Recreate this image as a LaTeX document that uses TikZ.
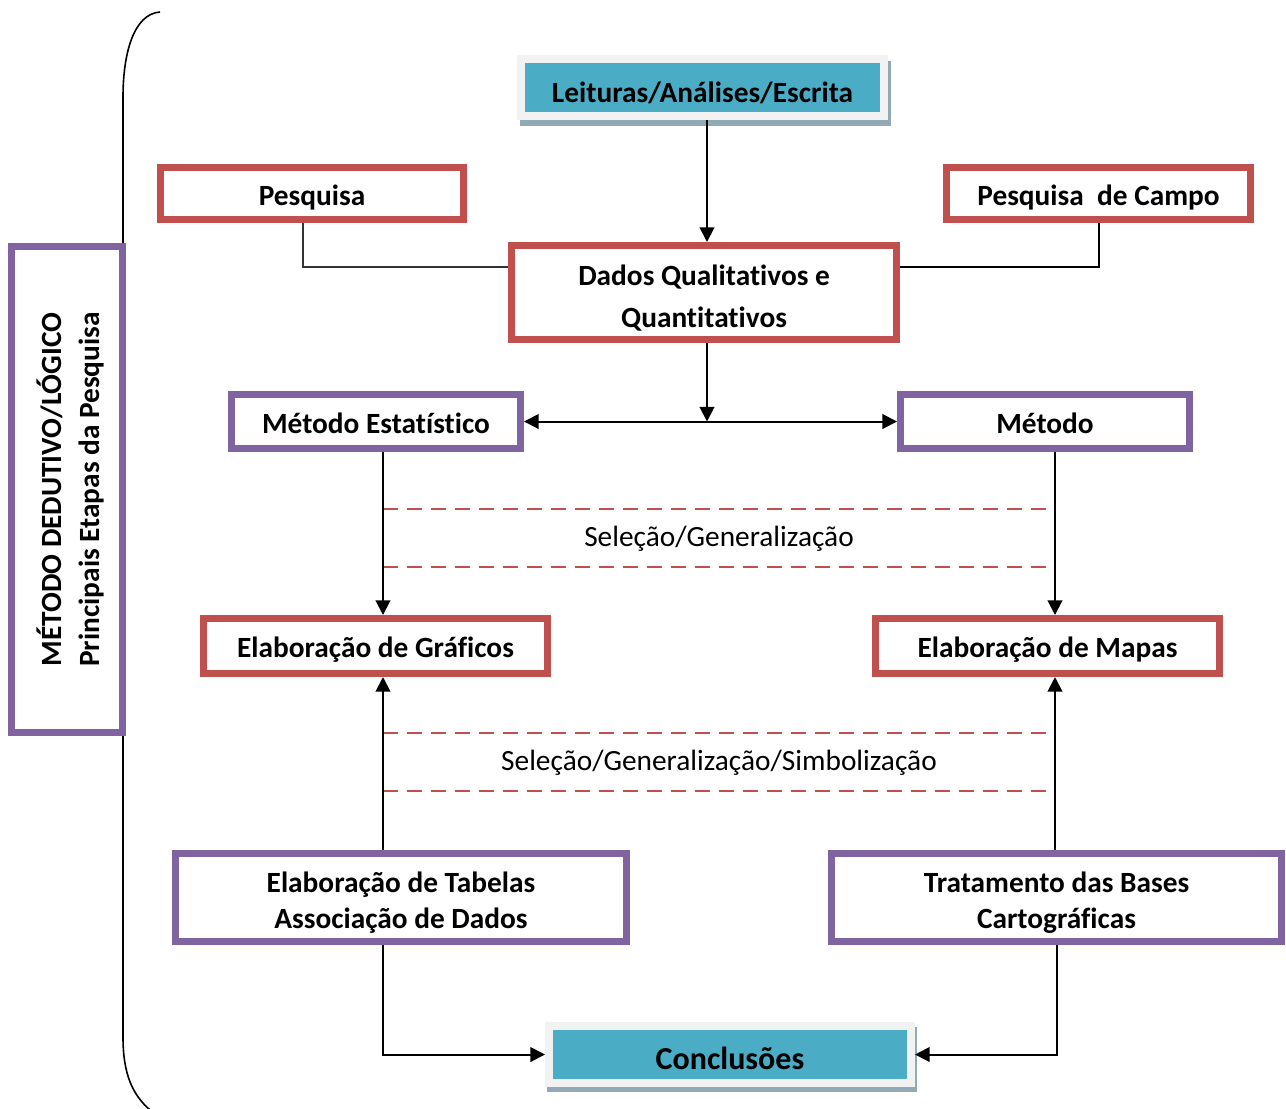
\documentclass[tikz,border=0pt]{standalone}
\usepackage{fontspec}
\setmainfont{Carlito}[Ligatures=NoCommon]
\usepackage{tikz}
\usetikzlibrary{calc, positioning, arrows.meta, backgrounds}
\definecolor{boxred}{RGB}{192,80,77}
\definecolor{boxpurple}{RGB}{128,100,162}
\definecolor{boxcyan}{RGB}{75,172,198}
\definecolor{framegray}{RGB}{242,242,242}
\definecolor{shadowgray}{RGB}{146,170,182}
\newcommand\bigfont{\fontsize{22}{27}\selectfont\bfseries}
\tikzset{
  redbox/.style={draw=boxred, line width=5pt, fill=white, inner sep=0pt, align=center, font=\bigfont, text height=22.5pt, text depth=5pt},
  purplebox/.style={draw=boxpurple, line width=5pt, fill=white, inner sep=0pt, align=center, font=\bigfont, text height=22.5pt, text depth=5pt},
  twolines/.style={text height=51.5pt, text depth=5pt},
  cyanbox/.style={draw=framegray, line width=6pt, fill=boxcyan, inner sep=0pt, text depth=5pt},
  arr/.style={line width=1.5pt, -{Triangle[length=11pt,width=11pt]}},
  link/.style={line width=1.5pt},
  thinlink/.style={line width=0.8pt, black!80},
  band/.style={draw=boxred, line width=1.5pt, dash pattern=on 11pt off 7pt},
  bandlabel/.style={font=\fontsize{22}{27}\selectfont, inner sep=0pt}
}

\begin{document}
\begin{tikzpicture}[x=0.75pt, y=-0.75pt]
\useasboundingbox (0,0) rectangle (1286,1108);

% brace and side label
\draw[line width=1.2pt] (160,12) .. controls (133,14) and (123,55) .. (123,97) -- (123,1037) .. controls (123,1075) and (133,1095) .. (150,1110);
\node[purplebox, rotate=90, minimum width=364.75pt, minimum height=83.5pt, font=\fontsize{22}{28.5}\selectfont\bfseries, text height=53.8pt, text depth=5pt] (lado) at (67,489.5) {MÉTODO DEDUTIVO/LÓGICO\\Principais Etapas da Pesquisa};

% top part
\node[cyanbox, minimum width=272.25pt, minimum height=42.75pt, font=\fontsize{22}{27}\selectfont\bfseries, text height=27.5pt] (leit) at (702.5,87.5) {Leituras/Análises/Escrita};
\node[redbox, minimum width=227.5pt, minimum height=39.25pt] (pesq) at (312,193.5) {Pesquisa};
\node[redbox, minimum width=228.25pt, minimum height=39.25pt] (campo) at (1098.5,193.5) {Pesquisa\ \ de Campo};
\node[redbox, minimum width=289pt, minimum height=70.75pt, font=\fontsize{22}{31.5}\selectfont\bfseries, text height=57.5pt, text depth=5pt] (dados) at (704,292.5) {Dados Qualitativos e\\Quantitativos};

% methods
\node[purplebox, minimum width=217pt, minimum height=40.75pt] (metest) at (376,421.5) {Método Estatístico};
\node[purplebox, minimum width=217pt, minimum height=40.75pt] (met) at (1045,421.5) {Método};

% products
\node[redbox, minimum width=258.25pt, minimum height=41.5pt] (graf) at (375.5,646) {Elaboração de Gráficos};
\node[redbox, minimum width=258.25pt, minimum height=41.5pt] (mapas) at (1047.5,646) {Elaboração de Mapas};

% bases
\node[purplebox, twolines, minimum width=338.5pt, minimum height=66.25pt] (tab) at (401,897.5) {Elaboração de Tabelas\\Associação de Dados};
\node[purplebox, twolines, minimum width=337.75pt, minimum height=66.25pt] (trat) at (1056.5,897.5) {Tratamento das Bases\\Cartográficas};

\node[cyanbox, minimum width=271.5pt, minimum height=42.75pt, font=\fontsize{24}{29}\selectfont\bfseries, text height=27pt] (concl) at (730,1054.5) {Conclusões};

\begin{pgfonlayer}{background}
\fill[shadowgray] ($(leit.north west)+(3,6)$) rectangle ($(leit.south east)+(3,6)$);
\fill[shadowgray] ($(concl.north west)+(2,5)$) rectangle ($(concl.south east)+(2,5)$);
\end{pgfonlayer}

% axes of the arrows
\coordinate (eixoC) at (707,0);
\coordinate (eixoE) at (383,0);
\coordinate (eixoD) at (1055,0);
\coordinate (ramo) at (0,267);

% bands
\draw[band] (eixoE |- 0,509) -- (eixoD |- 0,509);
\draw[band] (eixoE |- 0,567) -- (eixoD |- 0,567);
\node[bandlabel] (sel) at (719,539) {Seleção/Generalização};
\draw[band] (eixoE |- 0,733) -- (eixoD |- 0,733);
\draw[band] (eixoE |- 0,791) -- (eixoD |- 0,791);
\node[bandlabel] (simb) at (719,763) {Seleção/Generalização/Simbolização};

% connectors
\draw[arr] (leit.south -| eixoC) -- (dados.north -| eixoC);
\draw[thinlink] ($(pesq.south)+(-9,0)$) |- (dados.west |- ramo);
\draw[link] (campo.south) |- (dados.east |- ramo);
\draw[arr] (dados.south -| eixoC) -- (eixoC |- metest.east);
\draw[arr, {Triangle[length=11pt,width=11pt]}-{Triangle[length=11pt,width=11pt]}] (metest.east) -- (met.west);
\draw[arr] (metest.south -| eixoE) -- (graf.north -| eixoE);
\draw[arr] (met.south -| eixoD) -- (mapas.north -| eixoD);
\draw[arr] (tab.north -| eixoE) -- (graf.south -| eixoE);
\draw[arr] (trat.north -| eixoD) -- (mapas.south -| eixoD);
\draw[arr] (tab.south -| eixoE) |- (concl.west);
\draw[arr] (trat.south) |- (concl.east);
\end{tikzpicture}
\end{document}
